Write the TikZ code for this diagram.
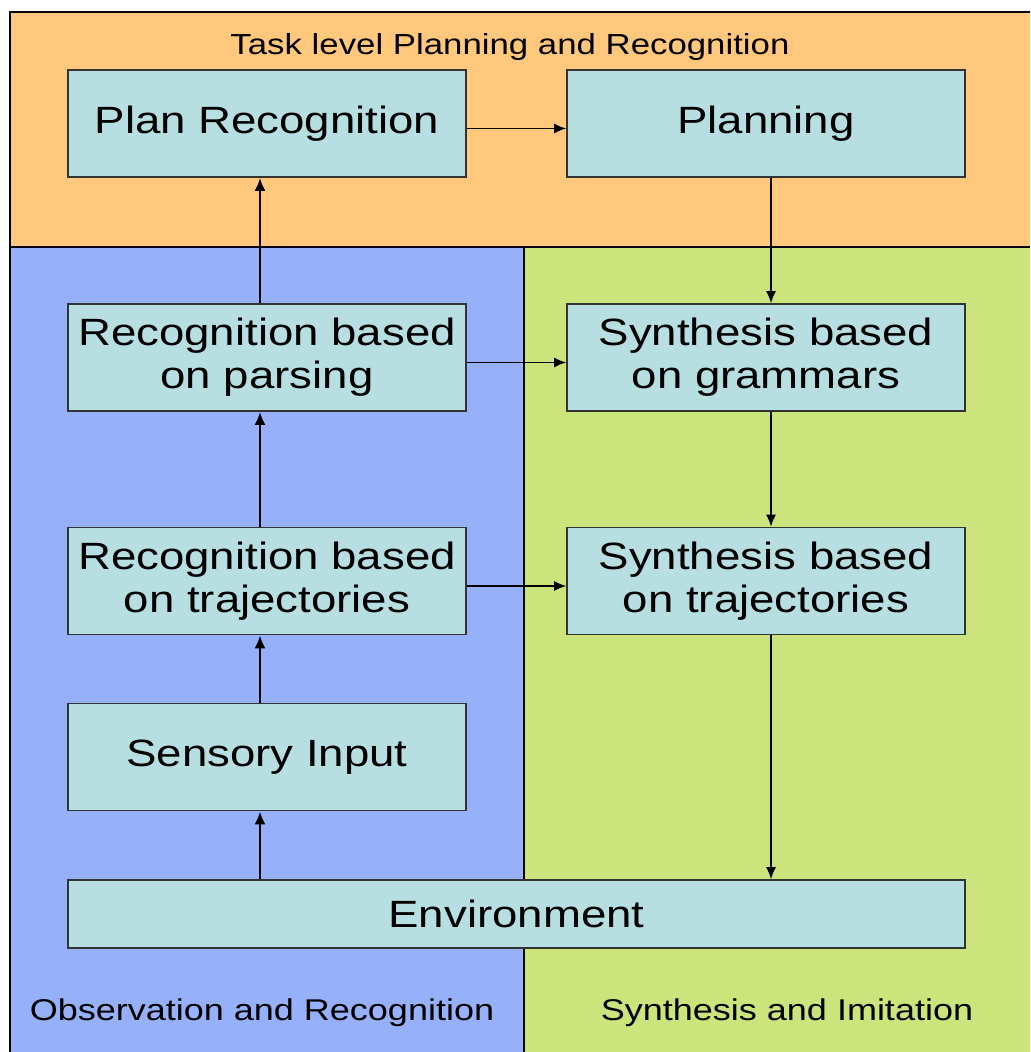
\documentclass[tikz,border=0pt]{standalone}
\usepackage{fontspec}
\setmainfont[FakeStretch=1.2]{Liberation Sans}
\usetikzlibrary{arrows.meta}
\definecolor{taskorange}{RGB}{255,200,125}
\definecolor{obsblue}{RGB}{150,176,250}
\definecolor{synthgreen}{RGB}{204,228,124}
\definecolor{boxcyan}{RGB}{183,223,226}

\begin{document}
\begin{tikzpicture}[x=.5pt, y=-.5pt,
  blk/.style={draw=black!80, fill=boxcyan, line width=.8pt, minimum width=199pt, minimum height=53.5pt,
    inner sep=0pt, align=center, font=\fontsize{19}{21.5}\selectfont},
  lbl/.style={font=\fontsize{15}{17}\selectfont},
  up/.style={-{Latex[length=6.5pt,width=5.5pt]}, line width=1.4pt},
  dn/.style={-{Latex[length=6pt,width=5pt]}, line width=.8pt}]
\useasboundingbox (0,0) rectangle (1030,1052);
% the three areas
\fill[taskorange] (10,12) rectangle (1030,247);
\fill[obsblue] (10,247) rectangle (524,1052);
\fill[synthgreen] (524,247) rectangle (1030,1052);
\draw[line width=.8pt] (10,1052) |- (1030,12);
\draw[line width=.8pt] (10,247) -- (1030,247) (524,247) -- (524,1052);
\node[lbl, font=\fontsize{14.5}{17}\selectfont] (tasklbl) at (510,47) {Task level Planning and Recognition};
\node[lbl] (obslbl) at (262,1013) {Observation and Recognition};
\node[lbl] (synlbl) at (787,1013) {Synthesis and Imitation};
% boxes
\node[blk] (planrec) at (267,123.5) {Plan Recognition};
\node[blk] (planning) at (766,123.5) {Planning};
\node[blk] (recpars) at (267,357.5) {Recognition based\\on parsing};
\node[blk] (synthgram) at (766,357.5) {Synthesis based\\on grammars};
\node[blk] (rectraj) at (267,581) {Recognition based\\on trajectories};
\node[blk] (synthtraj) at (766,581) {Synthesis based\\on trajectories};
\node[blk] (sensory) at (267,757) {Sensory Input};
\node[blk, minimum width=448.5pt, minimum height=34pt] (env) at (516.5,914) {Environment};
% observation side
\draw[up] ([xshift=-3.5pt]sensory.south |- env.north) -- ([xshift=-3.5pt]sensory.south);
\foreach \a/\b in {sensory/rectraj, rectraj/recpars, recpars/planrec}
  \draw[up] ([xshift=-3.5pt]\a.north) -- ([xshift=-3.5pt]\b.south);
% synthesis side
\foreach \a/\b in {planning/synthgram, synthgram/synthtraj}
  \draw[dn] ([xshift=2.5pt]\a.south) -- ([xshift=2.5pt]\b.north);
\draw[dn] ([xshift=2.5pt]synthtraj.south) -- ([xshift=2.5pt]synthtraj.south |- env.north);
% across
\foreach \a/\b in {planrec/planning, recpars/synthgram, rectraj/synthtraj}
  \draw[dn] ([yshift=-2.5pt]\a.east) -- ([yshift=-2.5pt]\b.west);
\end{tikzpicture}
\end{document}
